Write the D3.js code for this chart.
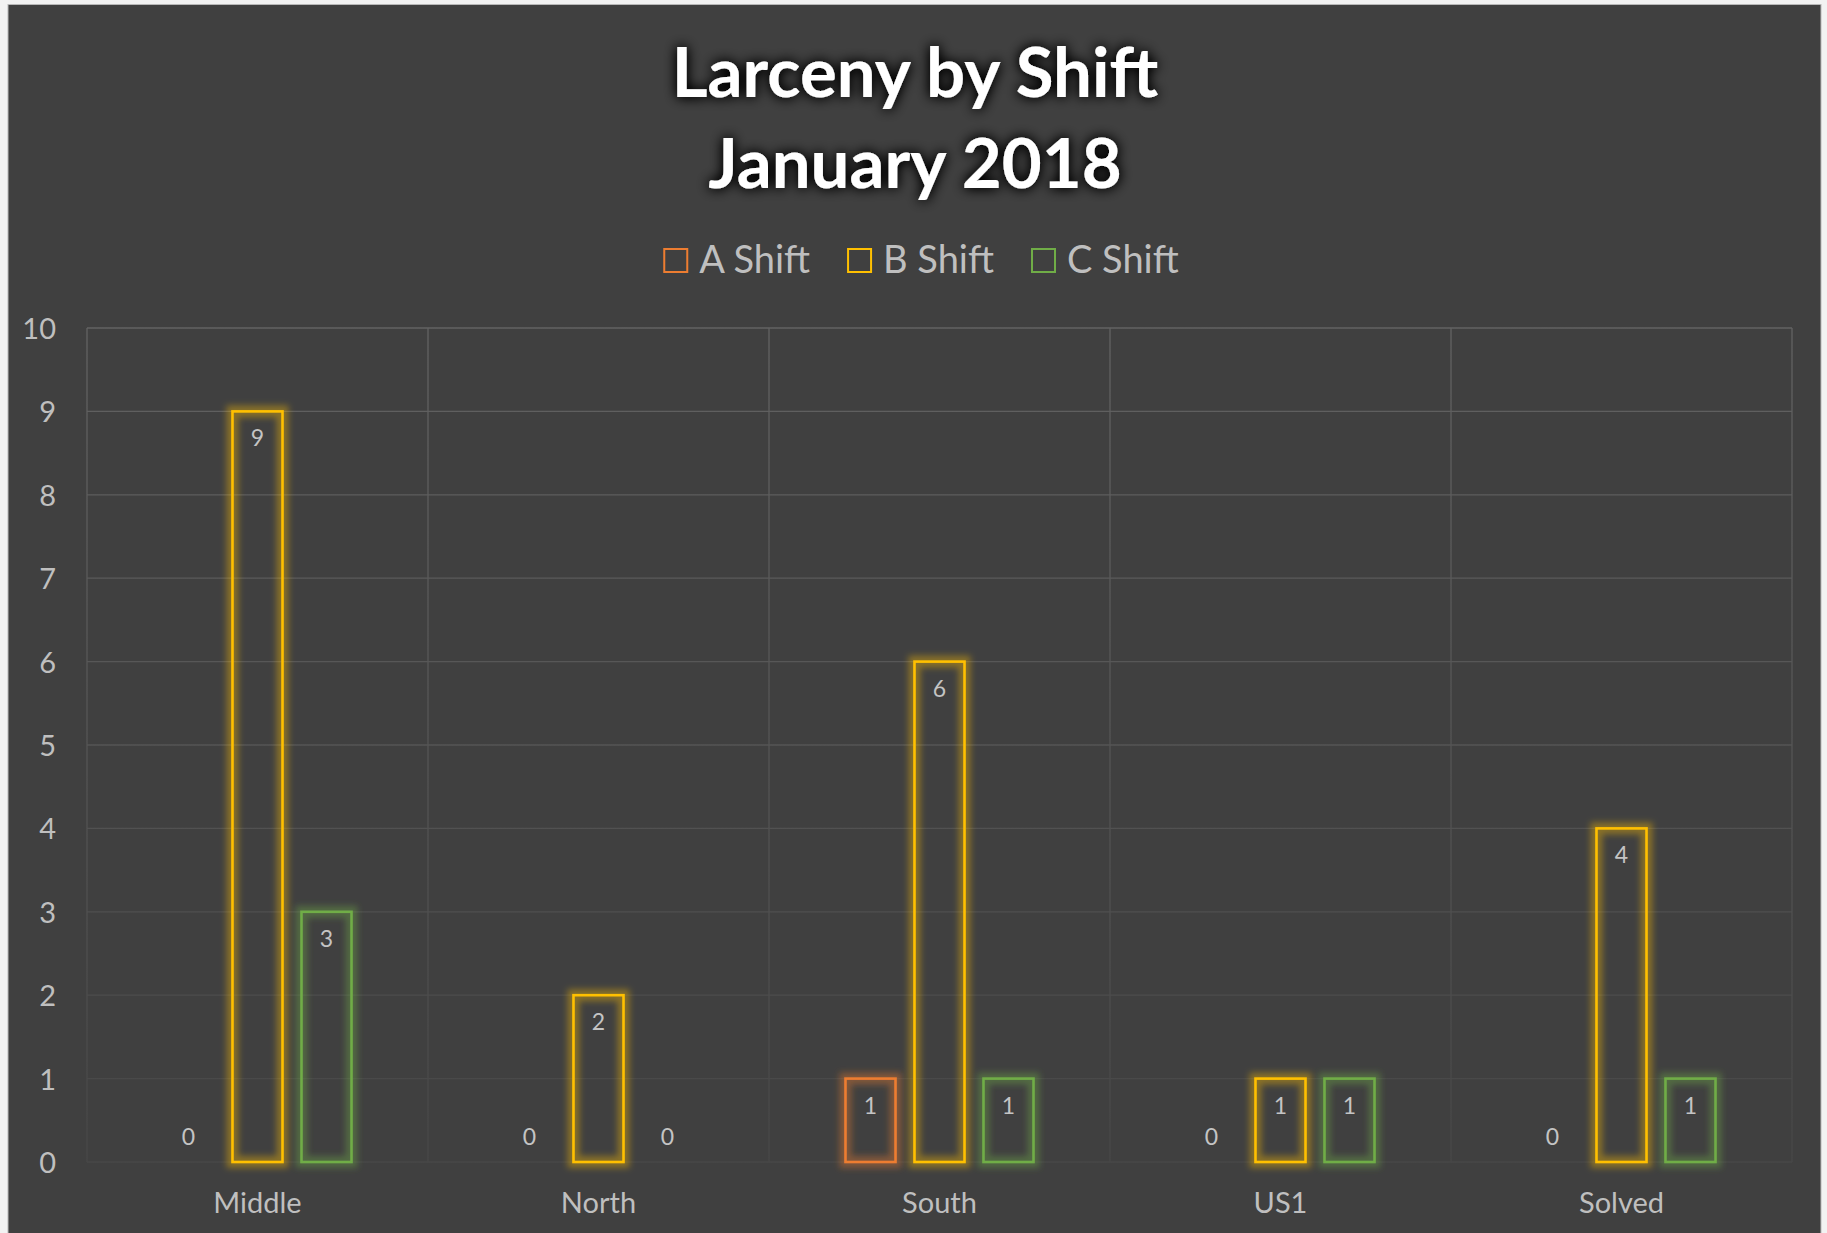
<!DOCTYPE html>
<html>
<head>
<meta charset="utf-8">
<script src="https://cdn.jsdelivr.net/npm/d3@7"></script>
<style>
  html, body { margin: 0; padding: 0; background: #f2f2f2; }
  svg { display: block; font-family: Lato, "Open Sans", sans-serif; }
</style>
</head>
<body>
<div id="chart"></div>
<script>
// chart data
const categories = ["Middle", "North", "South", "US1", "Solved"];
const seriesNames = ["A Shift", "B Shift", "C Shift"];
const aShift = [0, 0, 1, 0, 0];
const bShift = [9, 2, 6, 1, 4];
const cShift = [3, 0, 1, 1, 1];
const yTicks = [0, 1, 2, 3, 4, 5, 6, 7, 8, 9, 10];
const titleLines = ["Larceny by Shift", "January 2018"];

const seriesValues = [aShift, bShift, cShift];
const colors = ["#ED7D31", "#FFC000", "#70AD47"];

const svgWidth = 1827;
const svgHeight = 1233;

const plot = { left: 87, right: 1792, top: 328, bottom: 1162 };

const svg = d3.select("#chart")
  .append("svg")
  .attr("width", svgWidth)
  .attr("height", svgHeight);

const defs = svg.append("defs");

// title shadow
const shadow = defs.append("filter").attr("id", "titleShadow")
  .attr("x", "-20%").attr("y", "-40%").attr("width", "140%").attr("height", "180%");
shadow.append("feGaussianBlur").attr("in", "SourceAlpha").attr("stdDeviation", 6.5).attr("result", "b");
shadow.append("feComponentTransfer").attr("in", "b").attr("result", "b2")
  .append("feFuncA").attr("type", "linear").attr("slope", 1.5);
const sm = shadow.append("feMerge");
sm.append("feMergeNode").attr("in", "b2");
sm.append("feMergeNode").attr("in", "SourceGraphic");

// glow blur for bars
defs.append("filter").attr("id", "glow")
  .attr("x", "-50%").attr("y", "-20%").attr("width", "200%").attr("height", "140%")
  .append("feGaussianBlur").attr("stdDeviation", 3);

// gridline gradient, fading towards the bottom
const grad = defs.append("linearGradient").attr("id", "gridGrad")
  .attr("gradientUnits", "userSpaceOnUse")
  .attr("x1", 0).attr("y1", plot.top).attr("x2", 0).attr("y2", plot.bottom);
grad.append("stop").attr("offset", "0%").attr("stop-color", "#626262");
grad.append("stop").attr("offset", "100%").attr("stop-color", "#474747");

// chart background
svg.append("rect")
  .attr("x", 8).attr("y", 4.5)
  .attr("width", 1813).attr("height", svgHeight)
  .attr("fill", "#404040")
  .attr("stroke", "#b8b8b8")
  .attr("stroke-width", 1);

// scales
const x0 = d3.scaleBand()
  .domain(categories)
  .range([plot.left, plot.right])
  .padding(0);

const groupWidth = 207;
const x1 = d3.scaleBand()
  .domain(seriesNames)
  .range([0, groupWidth])
  .paddingInner(0.275)
  .paddingOuter(0.1375);
const groupOffset = (x0.bandwidth() - groupWidth) / 2;

const y = d3.scaleLinear()
  .domain([0, 10])
  .range([plot.bottom, plot.top]);

// gridlines
const grid = svg.append("g");
grid.selectAll(".hgrid")
  .data(yTicks)
  .enter()
  .append("line")
  .attr("x1", plot.left).attr("x2", plot.right)
  .attr("y1", d => y(d)).attr("y2", d => y(d))
  .attr("stroke", "url(#gridGrad)")
  .attr("stroke-width", 1.3);

const vLines = categories.map(c => x0(c)).concat([plot.right]);
grid.selectAll(".vgrid")
  .data(vLines)
  .enter()
  .append("line")
  .attr("x1", d => d).attr("x2", d => d)
  .attr("y1", plot.top).attr("y2", plot.bottom)
  .attr("stroke", "url(#gridGrad)")
  .attr("stroke-width", 1.3);

// y axis
const yAxis = svg.append("g")
  .attr("transform", `translate(${plot.left}, 0)`)
  .call(d3.axisLeft(y).tickValues(yTicks).tickSize(0).tickPadding(31).tickFormat(d3.format("d")));
yAxis.select(".domain").remove();
yAxis.selectAll("text")
  .attr("fill", "#bfbfbf")
  .attr("font-size", 29)
  .attr("font-family", "Lato, sans-serif")
  .attr("dy", "0.36em");

// x axis
const xAxis = svg.append("g")
  .attr("transform", `translate(0, ${plot.bottom})`)
  .call(d3.axisBottom(x0).tickSize(0));
xAxis.select(".domain").remove();
xAxis.selectAll("text")
  .attr("fill", "#bfbfbf")
  .attr("font-size", 29)
  .attr("font-family", "Lato, sans-serif")
  .attr("dy", null)
  .attr("y", 51);

// bars
const barData = [];
categories.forEach((c, i) => {
  seriesNames.forEach((s, j) => {
    barData.push({ cat: c, series: s, value: seriesValues[j][i], color: colors[j] });
  });
});

const barX = d => x0(d.cat) + groupOffset + x1(d.series);
const nonZero = barData.filter(d => d.value > 0);

const bars = svg.append("g");
// soft glow
bars.selectAll(".glow")
  .data(nonZero)
  .enter()
  .append("rect")
  .attr("x", barX)
  .attr("y", d => y(d.value))
  .attr("width", x1.bandwidth())
  .attr("height", d => y(0) - y(d.value))
  .attr("fill", "none")
  .attr("stroke", d => d.color)
  .attr("stroke-opacity", 0.38)
  .attr("stroke-width", 12)
  .attr("filter", "url(#glow)");

// crisp outline
bars.selectAll(".bar")
  .data(nonZero)
  .enter()
  .append("rect")
  .attr("x", barX)
  .attr("y", d => y(d.value))
  .attr("width", x1.bandwidth())
  .attr("height", d => y(0) - y(d.value))
  .attr("fill", "none")
  .attr("stroke", d => d.color)
  .attr("stroke-width", 2.6);

// data labels
svg.append("g").selectAll("text")
  .data(barData)
  .enter()
  .append("text")
  .attr("x", d => barX(d) + x1.bandwidth() / 2)
  .attr("y", d => d.value > 0 ? y(d.value) + 35 : y(0) - 17)
  .attr("text-anchor", "middle")
  .attr("fill", "#c4c4c4")
  .attr("font-size", 23)
  .text(d => d.value);

// title
const title = svg.append("g").attr("filter", "url(#titleShadow)");
title.selectAll("text")
  .data(titleLines)
  .enter()
  .append("text")
  .attr("x", 915)
  .attr("y", (d, i) => 97 + i * 91)
  .attr("text-anchor", "middle")
  .attr("fill", "#ffffff")
  .attr("font-weight", "bold")
  .attr("font-size", 69)
  .text(d => d);

// legend
const legend = svg.append("g");
const items = legend.selectAll("g")
  .data(seriesNames)
  .enter()
  .append("g");
items.append("rect")
  .attr("x", 1).attr("y", 249)
  .attr("width", 23).attr("height", 23)
  .attr("fill", "none")
  .attr("stroke", (d, i) => colors[i])
  .attr("stroke-width", 2);
items.append("text")
  .attr("x", 36)
  .attr("y", 273)
  .attr("fill", "#bfbfbf")
  .attr("font-size", 38)
  .text(d => d);

let offset = 0;
const positions = [];
items.each(function() {
  positions.push(offset);
  const w = d3.select(this).select("text").node().getComputedTextLength();
  offset += 36 + w + 37;
});
const legendWidth = offset - 37;
const legendStart = 921 - legendWidth / 2;
items.attr("transform", (d, i) => `translate(${legendStart + positions[i]}, 0)`);
</script>
</body>
</html>
